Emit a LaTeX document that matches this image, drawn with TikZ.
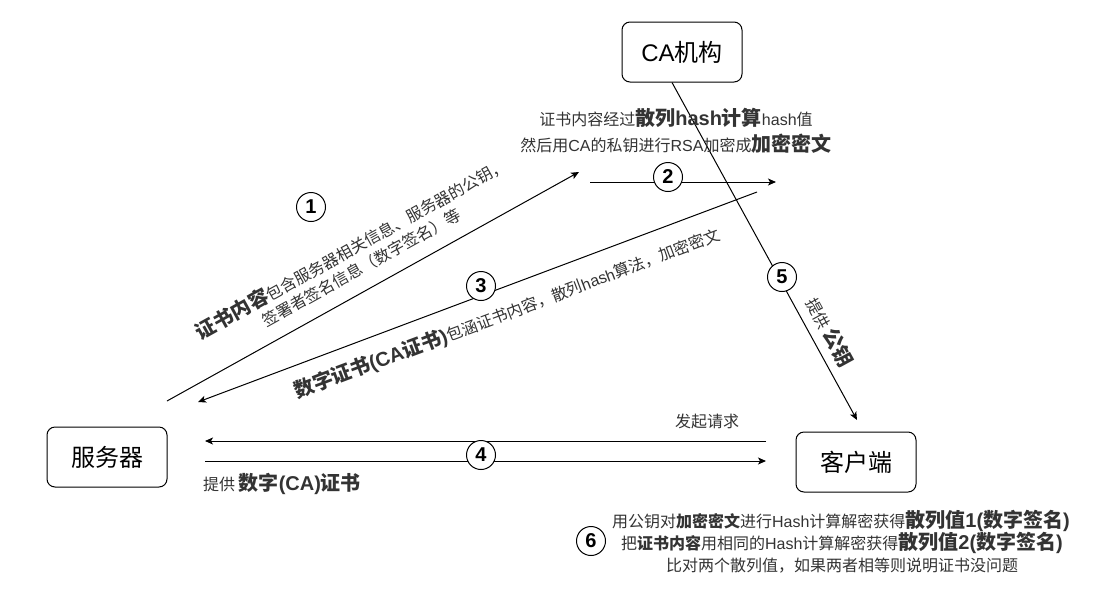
\documentclass[tikz,border=0pt]{standalone}
\usepackage{fontspec}
\setmainfont{Noto Sans CJK SC}
\newfontfamily\la{Liberation Sans}
\usetikzlibrary{arrows.meta,calc}
\definecolor{tc}{HTML}{333333}
\newcommand\rg{\fontsize{16}{20}\selectfont}
\newcommand\bd{\fontsize{20}{24}\selectfont\bfseries}
\newcommand\bs{\bfseries}
\begin{document}
\begin{tikzpicture}[x=1pt,y=-1pt,
  box/.style={draw, line width=1pt, rounded corners=8pt, minimum width=120pt, minimum height=60pt, inner sep=0pt, font=\fontsize{24}{28}\selectfont},
  num/.style={circle, draw, fill=white, minimum size=29pt, inner sep=0pt, line width=1pt, font=\la\bfseries\fontsize{20}{24}\selectfont},
  lbl/.style={text=tc, inner sep=0pt, font=\rg},
  arr/.style={-{Stealth[length=8pt,width=7pt,inset=2pt]}, line width=1pt}]
\useasboundingbox (0,0) rectangle (1109,598);
\fill[white] (0,0) rectangle (1109,598);
% boxes
\node[box] (ca) at (682,52) {{\la CA}机构};
\node[box] (sv) at (107,457) {服务器};
\node[box] (cl) at (856,462) {客户端};
% free ends
\coordinate (a1s) at (167,401); \coordinate (a1e) at (579,172);
\coordinate (a2s) at (590,182); \coordinate (a2e) at (776,182);
\coordinate (a3s) at (757,192); \coordinate (a3e) at (198,402);
\coordinate (a5e) at (857,420);
\coordinate (a4ts) at (766,441); \coordinate (a4te) at (205,441);
\coordinate (a4bs) at (205,461); \coordinate (a4be) at (766,461);
% connectors
\draw[arr] (a1s) -- (a1e);
\draw[arr] (a2s) -- (a2e);
\draw[arr] (a3s) -- (a3e);
\draw[arr] ($(ca.south)+(-10,0)$) -- (a5e);
\draw[arr] (a4ts) -- (a4te);
\draw[arr] (a4bs) -- (a4be);
% number circles
\node[num] (n1) at (311,207) {1};
\node[num] (n2) at (668,177) {2};
\node[num] (n3) at (481,286) {3};
\node[num] (n4) at (481,455) {4};
\node[num] (n5) at (782,277) {5};
\node[num] (n6) at (591,541) {6};
% labels
\node[lbl, anchor=base] (t2a) at (676,125) {证书内容经过{\bd 散列{\la hash}计算}{\la hash}值};
\node[lbl, anchor=base] (t2b) at (676,151) {然后用{\la CA}的私钥进行{\la RSA}加密成{\bd 加密密文}};
\node[lbl, rotate=29, align=center] (t1) at (356,257) {{\bd 证书内容}包含服务器相关信息、服务器的公钥，\\[1pt]签署者签名信息（数字签名）等};
\node[lbl, rotate=20.6] (t3) at (507,313) {{\bd 数字证书{\la (CA}证书{\la )}}包涵证书内容，散列{\la hash}算法，加密密文};
\node[lbl, rotate=-61.3] (t5) at (830,332) {提供 {\bd 公钥}};
\node[lbl, anchor=base] (t4a) at (707,427) {发起请求};
\node[lbl, anchor=base west] (t4b) at (203,490) {提供 {\bd 数字{\la (CA)}证书}};
\node[lbl, anchor=base] (t6a) at (841,527) {用公钥对{\bs 加密密文}进行{\la Hash}计算解密获得{\bd 散列值{\la 1(}数字签名{\la )}}};
\node[lbl, anchor=base] (t6b) at (842,549) {把{\bs 证书内容}用相同的{\la Hash}计算解密获得{\bd 散列值{\la 2(}数字签名{\la )}}};
\node[lbl, anchor=base] (t6c) at (842,571) {比对两个散列值，如果两者相等则说明证书没问题};
\end{tikzpicture}
\end{document}
